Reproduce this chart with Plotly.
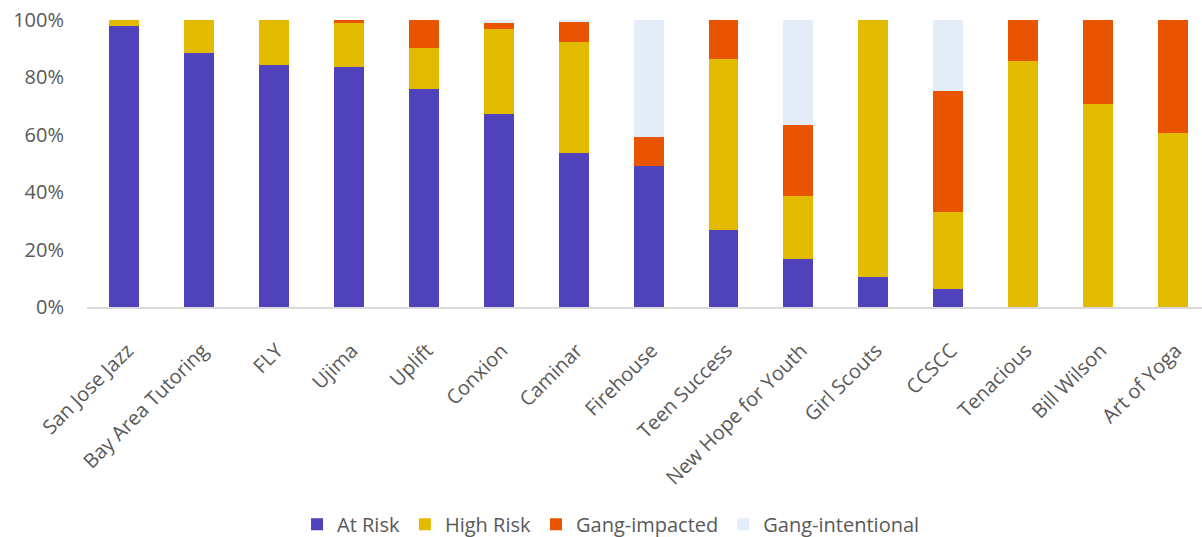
import plotly.graph_objects as go

programs = ["San Jose Jazz", "Bay Area Tutoring", "FLY", "Ujima", "Uplift", "Conxion",
            "Caminar", "Firehouse", "Teen Success", "New Hope for Youth", "Girl Scouts",
            "CCSCC", "Tenacious", "Bill Wilson", "Art of Yoga"]

at_risk = [0.980, 0.885, 0.843, 0.836, 0.759, 0.674, 0.535, 0.491, 0.269, 0.168, 0.106,
           0.064, 0.0, 0.0, 0.0]
high_risk = [0.020, 0.115, 0.157, 0.154, 0.144, 0.295, 0.387, 0.0, 0.595, 0.219, 0.894,
             0.267, 0.857, 0.706, 0.606]
gang_impacted = [0.0, 0.0, 0.0, 0.010, 0.097, 0.019, 0.073, 0.102, 0.136, 0.248, 0.0,
                 0.423, 0.143, 0.294, 0.394]
gang_intentional = [0.0, 0.0, 0.0, 0.0, 0.0, 0.012, 0.005, 0.407, 0.0, 0.365, 0.0,
                    0.246, 0.0, 0.0, 0.0]

series = [
    ("At Risk", at_risk, "#4F42BA"),
    ("High Risk", high_risk, "#E2BA00"),
    ("Gang-impacted", gang_impacted, "#E85400"),
    ("Gang-intentional", gang_intentional, "#E4ECF8"),
]

fig = go.Figure()
for name, vals, color in series:
    fig.add_trace(go.Bar(
        x=programs, y=vals, name=name,
        marker=dict(color=color, line=dict(width=0)),
        hoverinfo="x+y+name",
    ))

font_family = "'Open Sans', Lato, sans-serif"
grey = "#595959"
fig.update_layout(
    barmode="stack",
    bargap=0.6,
    width=1202, height=537,
    margin=dict(l=87, r=0, t=20, b=230, autoexpand=False),
    paper_bgcolor="white", plot_bgcolor="white",
    font=dict(family=font_family, size=20, color=grey),
    showlegend=True,
    legend=dict(orientation="h", x=0.47, xanchor="center", y=-0.757, yanchor="middle",
                font=dict(size=20, color=grey), traceorder="normal",
                itemwidth=30),
    xaxis=dict(
        type="category", range=[-0.5, 14.39], tickangle=-45, automargin=False,
        showgrid=False, showline=True, linecolor="#D9D9D9", linewidth=2,
        ticks="", ticklabelstandoff=22, ticklabelshift=3,
        tickfont=dict(size=20, color=grey),
    ),
    yaxis=dict(
        range=[0, 1], tickvals=[0, 0.2, 0.4, 0.6, 0.8, 1.0], tickformat=".0%",
        showgrid=False, zeroline=False, showline=False, ticks="", automargin=False,
        ticklabelstandoff=22, tickfont=dict(size=20, color=grey),
    ),
)

fig.write_html("out.html")
